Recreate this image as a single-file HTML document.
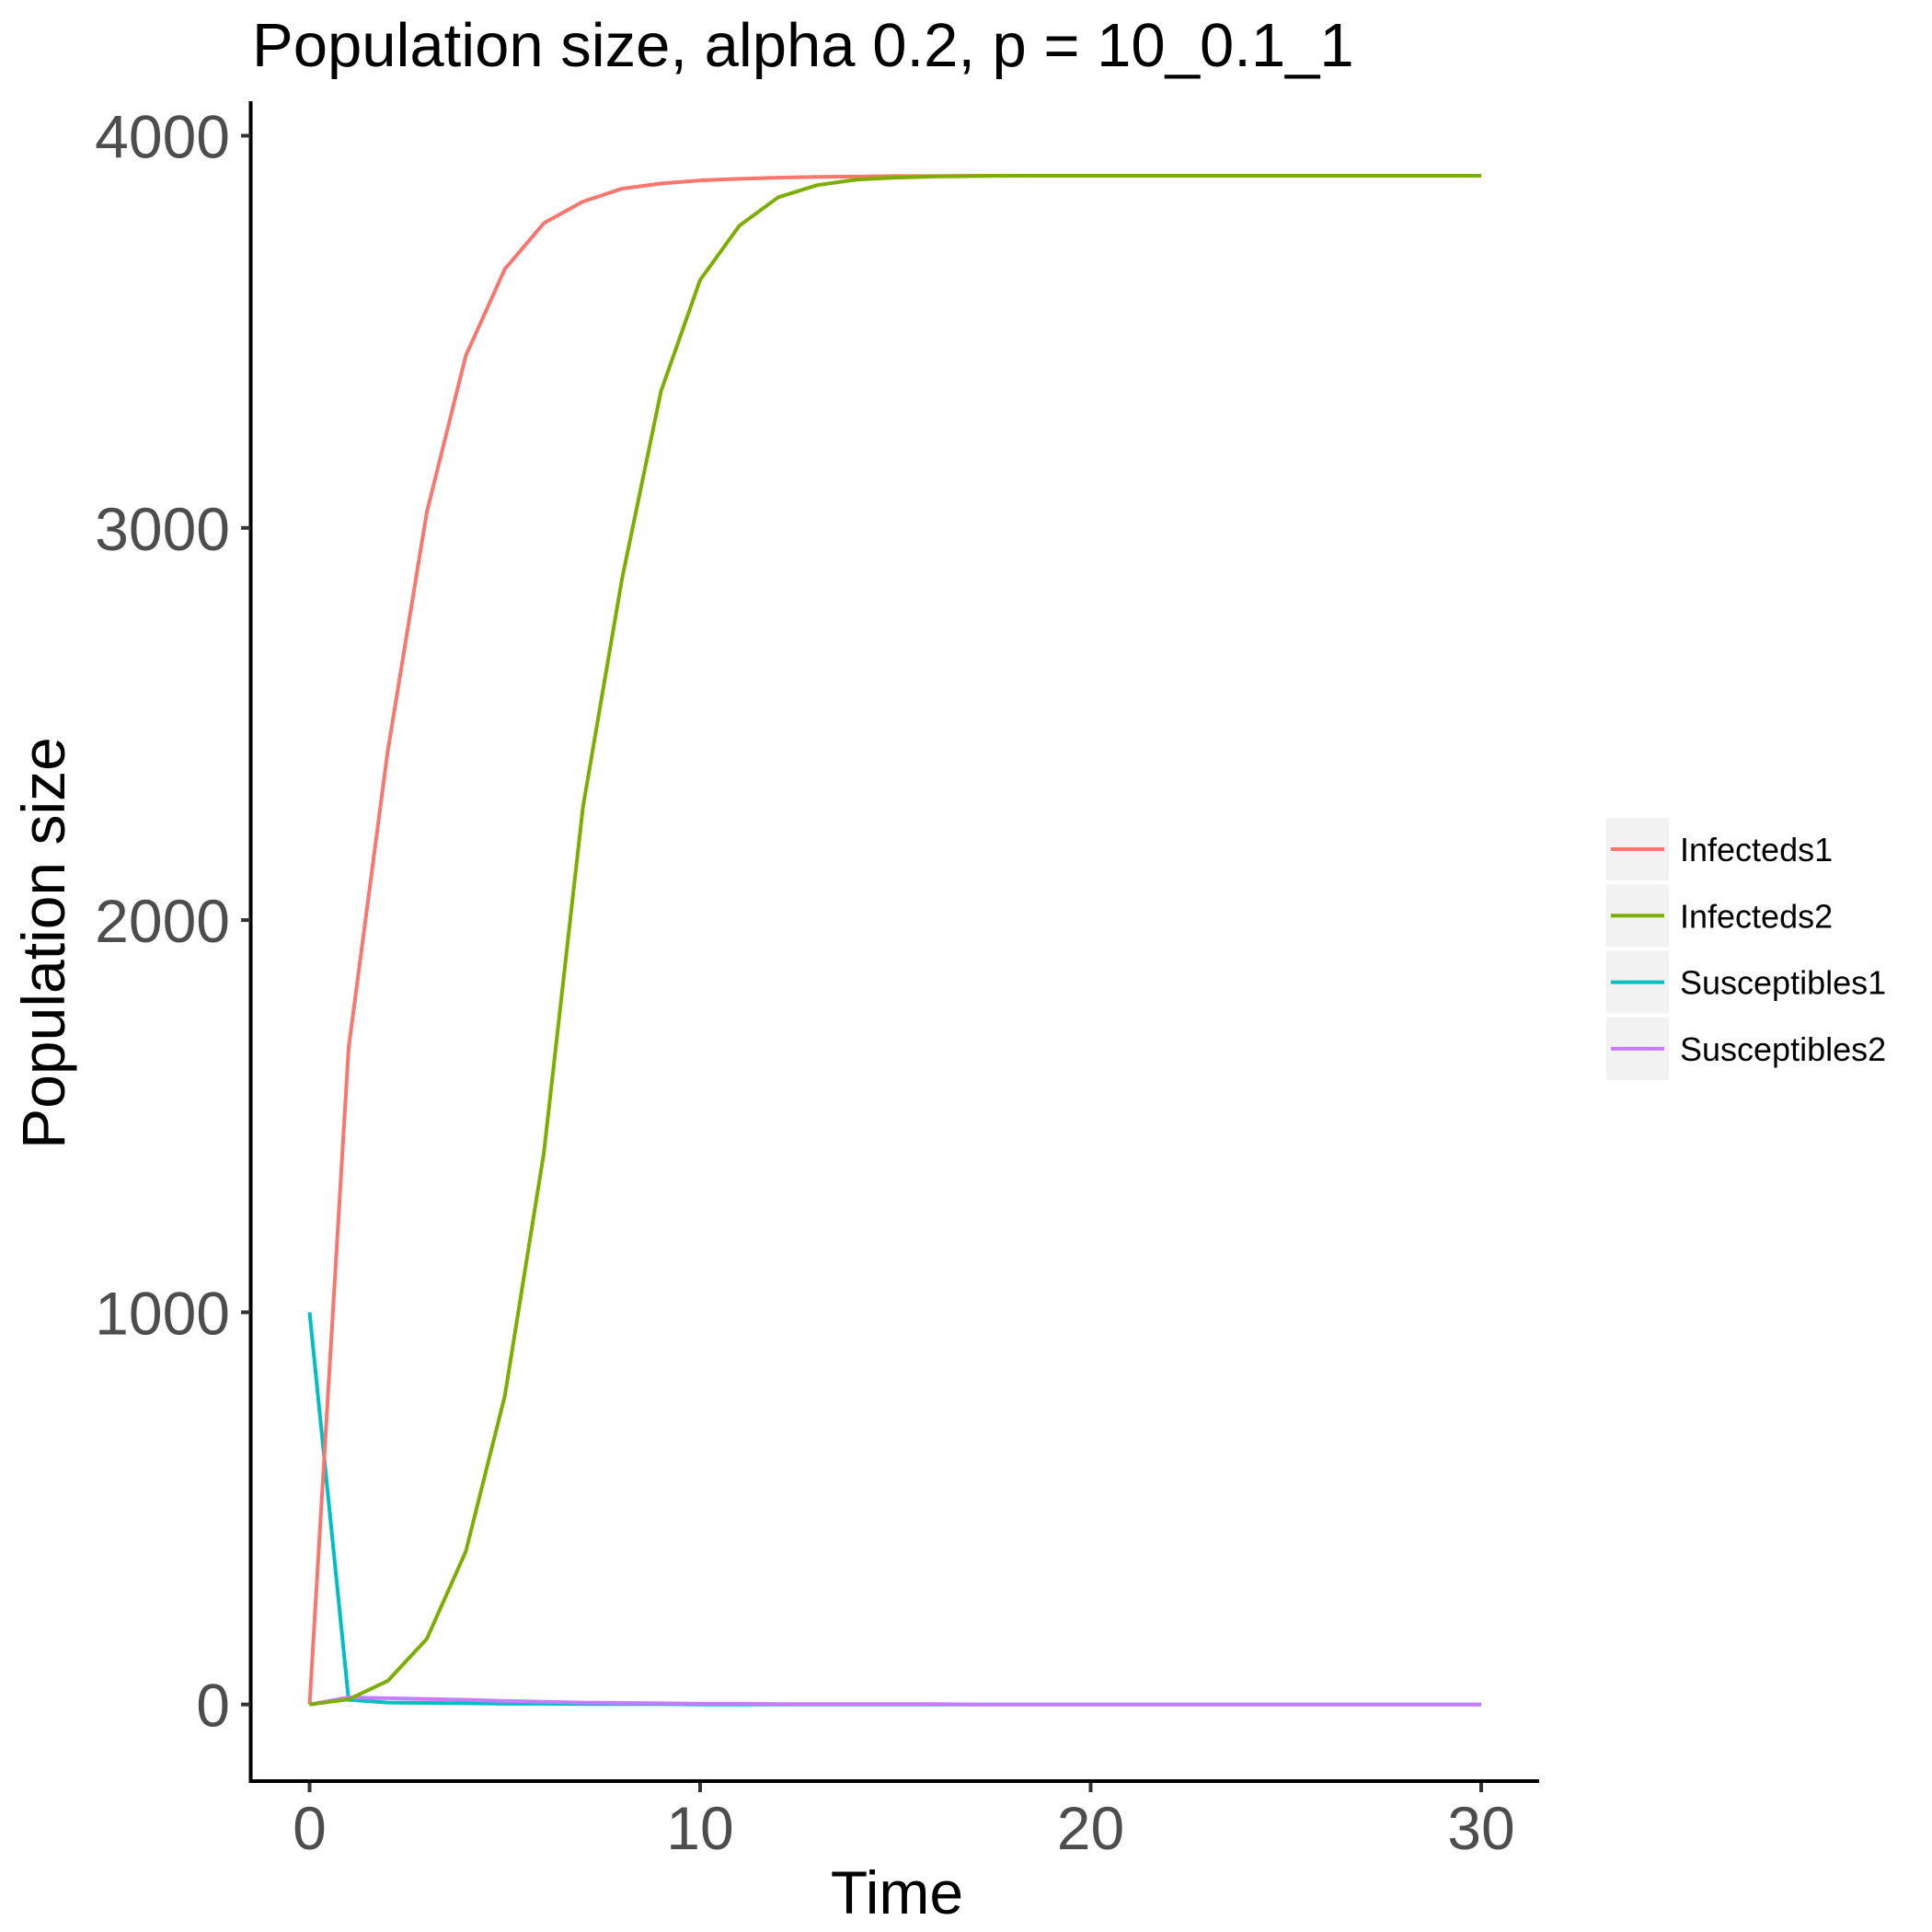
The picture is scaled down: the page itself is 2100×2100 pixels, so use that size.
<!DOCTYPE html>
<html><head><meta charset="utf-8"><style>
html,body{margin:0;padding:0;background:#fff;}
svg{display:block;font-family:"Liberation Sans",Arial,sans-serif;}
</style></head><body>
<svg id="chart" width="2100" height="2100" viewBox="0 0 2100 2100" xmlns="http://www.w3.org/2000/svg">
<rect width="2100" height="2100" fill="#fff"/>
<text x="274" y="72" font-size="67" fill="#000">Population size, alpha 0.2, p = 10_0.1_1</text>
<g id="plot"></g>
<line x1="272.5" y1="110" x2="272.5" y2="1936" stroke="#000" stroke-width="4"/>
<line x1="270.5" y1="1936" x2="1673" y2="1936" stroke="#000" stroke-width="4"/>
<g id="yticks"></g>
<g id="xticks"></g>
<text x="975" y="2080" font-size="66" text-anchor="middle" fill="#000">Time</text>
<text transform="translate(70,1025) rotate(-90)" font-size="66" text-anchor="middle" fill="#000">Population size</text>
<g id="legend"></g>
</svg>
<script>
const times = [0,1,2,3,4,5,6,7,8,9,10,11,12,13,14,15,16,17,18,19,20,21,22,23,24,25,26,27,28,29,30];
const infecteds1 = [0,1674,2430,3039,3439,3660,3777,3832,3865,3878,3886,3890,3893,3895,3896,3897,3897,3898,3898,3898,3898,3898,3898,3898,3898,3898,3898,3898,3898,3898,3898];
const infecteds2 = [0,13,60,167,390,787,1407,2288,2870,3349,3632,3770,3843,3874,3888,3893,3896,3897,3898,3898,3898,3898,3898,3898,3898,3898,3898,3898,3898,3898,3898];
const susceptibles1 = [1000,12,5,4,3,2,2,1,1,1,0,0,0,0,0,0,0,0,0,0,0,0,0,0,0,0,0,0,0,0,0];
const susceptibles2 = [0,18,16,14,12,9,7,5,4,3,2,2,1,1,1,1,1,0,0,0,0,0,0,0,0,0,0,0,0,0,0];
const seriesNames = ["Infecteds1","Infecteds2","Susceptibles1","Susceptibles2"];
const seriesColors = ["#F8766D","#7CAE00","#00BFC4","#C77CFF"];
const yTicks = [0,1000,2000,3000,4000];
const xTicks = [0,10,20,30];

const NS = "http://www.w3.org/2000/svg";
function xs(t){ return 336.5 + t*(1610-336.5)/30; }
function ys(v){ return 1852.7 - v*(1852.7-147.5)/4000; }
function mk(tag, attrs, parent){ const e=document.createElementNS(NS,tag); for(const k in attrs) e.setAttribute(k,attrs[k]); parent.appendChild(e); return e; }

const plot = document.getElementById('plot');
const allSeries = [infecteds1, infecteds2, susceptibles1, susceptibles2];
const drawOrder = [2,3,0,1];
drawOrder.forEach(function(i){
  const vals = allSeries[i];
  const d = vals.map(function(v,j){ return (j?'L':'M') + xs(times[j]).toFixed(2) + ' ' + ys(v).toFixed(2); }).join(' ');
  const p = mk('path', {d:d, fill:'none', stroke:seriesColors[i], 'stroke-width':4, 'stroke-linejoin':'round'}, plot);
  
  
});

const yg = document.getElementById('yticks');
yTicks.forEach(function(v){
  const y = ys(v);
  const l = mk('line', {x1:262, y1:y, x2:272, y2:y, stroke:'#333', 'stroke-width':4}, yg);
  
  
  const t = mk('text', {x:250, y:y+24, 'font-size':66, 'text-anchor':'end', fill:'#4d4d4d'}, yg);
  t.textContent = v;
  
  
});
const xg = document.getElementById('xticks');
xTicks.forEach(function(v){
  const x = xs(v);
  const l = mk('line', {x1:x, y1:1938, x2:x, y2:1948, stroke:'#333', 'stroke-width':4}, xg);
  
  
  const t = mk('text', {x:x, y:2010, 'font-size':66, 'text-anchor':'middle', fill:'#4d4d4d'}, xg);
  t.textContent = v;
  
  
});

const lg = document.getElementById('legend');
seriesNames.forEach(function(n,i){
  const y0 = 889 + i*72.3;
  const r = mk('rect', {x:1746, y:y0, width:68, height:68, fill:'#f2f2f2'}, lg);
  
  
  const l = mk('line', {x1:1751, y1:y0+34, x2:1809, y2:y0+34, stroke:seriesColors[i], 'stroke-width':4}, lg);
  
  
  const t = mk('text', {x:1826, y:y0+47, 'font-size':36, fill:'#000'}, lg);
  t.textContent = n;
  
  
});
</script>
</body></html>
